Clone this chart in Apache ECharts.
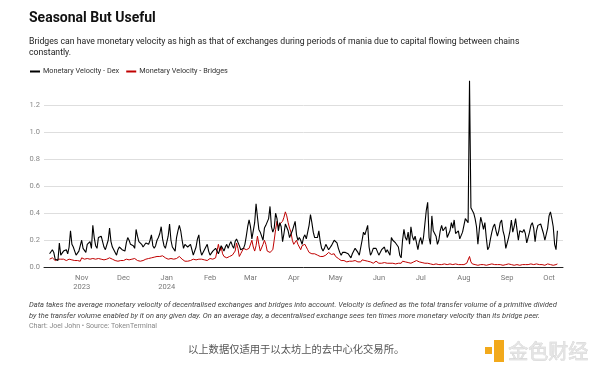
<!DOCTYPE html>
<html>
<head>
<meta charset="utf-8">
<script src="https://cdn.jsdelivr.net/npm/echarts@6/dist/echarts.min.js"></script>
<style>html,body{margin:0;padding:0;background:#fff}#c{width:600px;height:372px}</style>
</head>
<body>
<div id="c"></div>
<script>
// Daily series, starting 2023-10-09
const startDate = [2023, 9, 9];
const dexValues = [
0.10,0.11,0.13,0.11,0.06,0.05,0.05,0.18,0.09,0.10,
0.12,0.12,0.13,0.10,0.15,0.27,0.17,0.15,0.12,0.09,
0.08,0.12,0.16,0.20,0.14,0.13,0.11,0.17,0.18,0.19,
0.14,0.31,0.22,0.16,0.14,0.22,0.21,0.23,0.22,0.15,
0.13,0.12,0.20,0.29,0.19,0.15,0.13,0.12,0.09,0.13,
0.15,0.14,0.13,0.12,0.12,0.18,0.22,0.20,0.17,0.18,
0.16,0.14,0.28,0.23,0.19,0.18,0.17,0.15,0.14,0.18,
0.18,0.17,0.20,0.24,0.16,0.14,0.16,0.20,0.22,0.25,
0.30,0.21,0.16,0.14,0.13,0.23,0.32,0.20,0.15,0.14,
0.12,0.22,0.27,0.31,0.27,0.20,0.14,0.17,0.16,0.15,
0.16,0.17,0.13,0.09,0.08,0.15,0.21,0.24,0.13,0.09,
0.10,0.13,0.15,0.17,0.12,0.09,0.09,0.12,0.13,0.14,
0.12,0.10,0.13,0.16,0.14,0.12,0.15,0.17,0.14,0.17,
0.19,0.16,0.14,0.19,0.21,0.22,0.16,0.13,0.12,0.14,
0.17,0.23,0.30,0.35,0.30,0.21,0.22,0.33,0.47,0.37,
0.28,0.26,0.27,0.20,0.29,0.31,0.32,0.36,0.45,0.30,
0.26,0.29,0.40,0.36,0.27,0.33,0.30,0.19,0.25,0.32,
0.32,0.27,0.22,0.21,0.27,0.28,0.34,0.24,0.20,0.22,
0.20,0.17,0.22,0.24,0.21,0.22,0.31,0.39,0.33,0.26,
0.22,0.22,0.22,0.27,0.19,0.14,0.12,0.14,0.17,0.16,
0.13,0.14,0.16,0.17,0.20,0.21,0.18,0.14,0.11,0.09,
0.11,0.12,0.11,0.11,0.10,0.09,0.07,0.10,0.12,0.14,
0.13,0.11,0.09,0.08,0.20,0.26,0.24,0.24,0.31,0.15,
0.09,0.11,0.14,0.14,0.14,0.13,0.09,0.11,0.13,0.14,
0.15,0.11,0.13,0.12,0.09,0.22,0.20,0.21,0.18,0.18,
0.15,0.09,0.07,0.20,0.28,0.22,0.20,0.26,0.17,0.30,
0.23,0.20,0.23,0.24,0.13,0.19,0.22,0.17,0.22,0.32,
0.42,0.48,0.22,0.17,0.38,0.27,0.26,0.23,0.17,0.20,
0.27,0.31,0.27,0.26,0.30,0.22,0.22,0.27,0.33,0.29,
0.35,0.25,0.25,0.27,0.21,0.20,0.26,0.31,0.36,0.37,
0.33,1.38,0.44,0.42,0.40,0.36,0.30,0.17,0.28,0.37,
0.33,0.28,0.33,0.22,0.13,0.15,0.21,0.26,0.30,0.32,
0.27,0.23,0.27,0.33,0.35,0.27,0.23,0.14,0.14,0.22,
0.27,0.35,0.26,0.30,0.36,0.28,0.20,0.27,0.26,0.26,
0.28,0.25,0.18,0.22,0.26,0.31,0.33,0.29,0.19,0.27,
0.31,0.30,0.32,0.32,0.25,0.20,0.21,0.29,0.38,0.41,
0.36,0.30,0.17,0.13,0.27
];
const bridgeValues = [
0.06,0.06,0.07,0.07,0.05,0.05,0.06,0.06,0.06,0.055,
0.06,0.05,0.05,0.06,0.06,0.05,0.055,0.05,0.05,0.045,
0.05,0.04,0.045,0.07,0.065,0.06,0.06,0.065,0.065,0.06,
0.06,0.065,0.06,0.06,0.06,0.065,0.065,0.06,0.06,0.055,
0.06,0.06,0.065,0.07,0.065,0.06,0.06,0.05,0.05,0.045,
0.045,0.05,0.05,0.05,0.055,0.06,0.06,0.055,0.06,0.06,
0.07,0.065,0.06,0.05,0.04,0.045,0.05,0.05,0.06,0.06,
0.06,0.065,0.065,0.07,0.07,0.075,0.08,0.08,0.08,0.08,
0.085,0.085,0.08,0.07,0.07,0.06,0.06,0.065,0.065,0.06,
0.06,0.065,0.07,0.08,0.07,0.06,0.05,0.045,0.04,0.045,
0.05,0.05,0.055,0.06,0.06,0.055,0.055,0.06,0.06,0.06,
0.06,0.055,0.05,0.05,0.06,0.065,0.065,0.06,0.06,0.07,
0.12,0.17,0.12,0.15,0.10,0.08,0.08,0.07,0.07,0.08,
0.09,0.09,0.10,0.12,0.18,0.14,0.08,0.10,0.12,0.14,
0.13,0.13,0.13,0.14,0.14,0.20,0.15,0.12,0.16,0.23,
0.17,0.12,0.13,0.17,0.20,0.17,0.12,0.11,0.11,0.12,
0.13,0.20,0.28,0.34,0.30,0.32,0.33,0.34,0.37,0.41,
0.38,0.33,0.29,0.26,0.20,0.17,0.18,0.20,0.17,0.15,
0.13,0.16,0.17,0.17,0.15,0.13,0.11,0.11,0.10,0.10,
0.10,0.09,0.09,0.09,0.08,0.08,0.08,0.085,0.09,0.10,
0.11,0.10,0.095,0.09,0.10,0.08,0.07,0.065,0.06,0.05,
0.05,0.05,0.045,0.04,0.04,0.045,0.04,0.045,0.05,0.05,
0.045,0.04,0.04,0.04,0.055,0.06,0.05,0.045,0.045,0.04,
0.04,0.035,0.03,0.035,0.045,0.04,0.03,0.03,0.03,0.03,
0.035,0.035,0.03,0.03,0.03,0.03,0.03,0.03,0.025,0.025,
0.03,0.025,0.03,0.045,0.04,0.04,0.035,0.035,0.03,0.03,
0.035,0.04,0.045,0.05,0.04,0.04,0.035,0.035,0.03,0.03,
0.03,0.03,0.03,0.025,0.025,0.02,0.02,0.025,0.025,0.02,
0.02,0.02,0.025,0.025,0.02,0.02,0.025,0.025,0.02,0.02,
0.02,0.025,0.025,0.02,0.02,0.02,0.02,0.02,0.025,0.03,
0.03,0.08,0.04,0.025,0.02,0.02,0.015,0.015,0.02,0.02,
0.02,0.02,0.02,0.015,0.015,0.02,0.02,0.025,0.025,0.02,
0.02,0.02,0.02,0.02,0.02,0.015,0.015,0.02,0.02,0.025,
0.025,0.02,0.015,0.015,0.02,0.02,0.02,0.015,0.015,0.02,
0.02,0.02,0.02,0.02,0.025,0.025,0.02,0.02,0.02,0.025,
0.025,0.02,0.02,0.02,0.015,0.015,0.02,0.025,0.025,0.02,
0.02,0.015,0.015,0.02,0.025
];
const monthLabels = ['Jan','Feb','Mar','Apr','May','Jun','Jul','Aug','Sep','Oct','Nov','Dec'];
const yearLabels = {'2023-10': '2023', '2024-0': '2024'};
const seriesNames = ['Monetary Velocity - Dex', 'Monetary Velocity - Bridges'];

const dates = dexValues.map((_, i) => new Date(startDate[0], startDate[1], startDate[2] + i).getTime());
const dexData = dexValues.map((v, i) => [dates[i], v]);
const bridgeData = bridgeValues.map((v, i) => [dates[i], v]);

const chart = echarts.init(document.getElementById('c'), null, {renderer: 'canvas'});
const F = 'Roboto, "Noto Sans", sans-serif';
chart.setOption({
  animation: false,
  backgroundColor: '#fff',
  textStyle: {fontFamily: F},
  title: {
    text: 'Seasonal But Useful', left: 29, top: 11, padding: 0,
    textStyle: {fontSize: 14, fontWeight: 'bold', color: '#111', fontFamily: F}
  },
  legend: {
    left: 25, top: 63, itemGap: 7, itemWidth: 10, itemHeight: 2, icon: 'rect',
    textStyle: {fontSize: 7.3, color: '#333', padding: [0, 0, 0, -2]},
    data: seriesNames
  },
  grid: {left: 44, right: 37, top: 105, bottom: 104.7},
  xAxis: {
    type: 'time',
    min: new Date(2023, 9, 5).getTime(),
    max: new Date(2024, 9, 11).getTime(),
    minInterval: 28 * 86400000,
    maxInterval: 31 * 86400000,
    axisLine: {lineStyle: {color: '#222', width: 1}},
    axisTick: {show: false},
    splitLine: {show: false},
    axisLabel: {
      color: '#777', fontSize: 7.5, lineHeight: 9, margin: 6,
      formatter: function (val) {
        const d = new Date(val);
        const key = d.getFullYear() + '-' + d.getMonth();
        const m = monthLabels[d.getMonth()];
        return yearLabels[key] ? m + '\n' + yearLabels[key] : m;
      }
    }
  },
  yAxis: {
    type: 'value', min: 0, max: 1.2, interval: 0.2,
    axisLine: {show: false}, axisTick: {show: false},
    splitLine: {lineStyle: {color: '#dedede', width: 1}},
    axisLabel: {color: '#888', fontSize: 7.5, margin: 4, formatter: v => v.toFixed(1)}
  },
  series: [
    {name: seriesNames[0], type: 'line', data: dexData, symbol: 'none', clip: false,
     lineStyle: {color: '#000', width: 1.1}, itemStyle: {color: '#000'}, z: 3},
    {name: seriesNames[1], type: 'line', data: bridgeData, symbol: 'none', clip: false,
     lineStyle: {color: '#c00000', width: 1}, itemStyle: {color: '#c00000'}, z: 2}
  ],
  graphic: [
    {type: 'text', left: 29, top: 36, style: {text: 'Bridges can have monetary velocity as high as that of exchanges during periods of mania due to capital flowing between chains\nconstantly.', font: '8.7px Roboto', fill: '#222', lineHeight: 11}},
    {type: 'text', left: 29, top: 300, style: {text: 'Data takes the average monetary velocity of decentralised exchanges and bridges into account. Velocity is defined as the total transfer volume of a primitive divided\nby the transfer volume enabled by it on any given day. On an average day, a decentralised exchange sees ten times more monetary velocity than its bridge peer.', font: 'italic 7.5px Roboto', fill: '#444', lineHeight: 11}},
    {type: 'text', left: 29, top: 323, style: {text: 'Chart: Joel John \u2022 Source: TokenTerminal', font: '7px Roboto', fill: '#888'}},
    {type: 'text', left: 188, top: 344, style: {text: '以上数据仅适用于以太坊上的去中心化交易所。', font: '10.3px "Noto Sans CJK SC"', fill: '#555'}},
    {type: 'rect', shape: {x: 494, y: 340, width: 10, height: 22}, style: {fill: '#f2a91b'}},
    {type: 'rect', shape: {x: 485, y: 347, width: 7, height: 7}, style: {fill: '#f2a91b'}},
    {type: 'text', left: 508, top: 341, style: {text: '金色财经', font: '20px "Noto Sans CJK SC"', fill: '#e4e4e4', stroke: '#cfcfcf', lineWidth: 0.6}}
  ]
});
</script>
</body>
</html>
